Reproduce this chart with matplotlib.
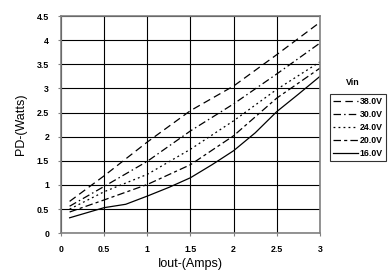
import numpy as np
import matplotlib
matplotlib.use("Agg")
import matplotlib.pyplot as plt

plt.rcParams['font.family'] = ['Liberation Sans', 'DejaVu Sans']

# load current (A)
iout = [0.1, 0.5, 1.0, 1.5, 2.0, 2.5, 3.0]

# dissipated power (W) per input voltage
pd_38v = [0.66, 1.19, 1.89, 2.54, 3.05, 3.70, 4.37]
pd_30v = [0.56, 0.97, 1.49, 2.12, 2.68, 3.30, 3.94]
pd_24v = [0.50, 0.86, 1.22, 1.74, 2.33, 2.98, 3.55]
pd_20v = [0.44, 0.69, 1.01, 1.42, 2.02, 2.80, 3.42]
iout_16 = [0.1, 0.5, 0.75, 1.0, 1.25, 1.5, 1.75, 2.0, 2.25, 2.5, 2.75, 3.0]
pd_16v = [0.32, 0.53, 0.60, 0.77, 0.95, 1.15, 1.42, 1.71, 2.08, 2.52, 2.88, 3.25]

labels = ['38.0V', '30.0V', '24.0V', '20.0V', '16.0V']
x_ticks = [0, 0.5, 1, 1.5, 2, 2.5, 3]
x_tick_labels = ['0', '0.5', '1', '1.5', '2', '2.5', '3']
y_ticks = [0, 0.5, 1, 1.5, 2, 2.5, 3, 3.5, 4, 4.5]
y_tick_labels = ['0', '0.5', '1', '1.5', '2', '2.5', '3', '3.5', '4', '4.5']

fig = plt.figure(figsize=(3.9, 2.78), dpi=100)
ax = fig.add_axes([0.1564, 0.161, 0.664, 0.7814])

lw = 0.9
ax.plot(iout, pd_38v, color='black', lw=lw, linestyle=(0, (6, 3.5)), label=labels[0])
ax.plot(iout, pd_30v, color='black', lw=lw, linestyle=(0, (6, 2.5, 1.2, 2.5)), label=labels[1])
ax.plot(iout, pd_24v, color='black', lw=lw, linestyle=(0, (1.5, 2.5)), label=labels[2])
ax.plot(iout, pd_20v, color='black', lw=lw, linestyle=(0, (6, 2.5, 2.5, 2.5)), label=labels[3])
ax.plot(iout_16, pd_16v, color='black', lw=lw, linestyle='-', label=labels[4])

ax.set_xlim(0, 3)
ax.set_ylim(0, 4.5)
ax.set_xticks(x_ticks)
ax.set_xticklabels(x_tick_labels)
ax.set_yticks(y_ticks)
ax.set_yticklabels(y_tick_labels)
ax.grid(True, color='black', lw=0.8)
ax.set_axisbelow(True)

for s in ax.spines.values():
    s.set_color('#808080')
    s.set_linewidth(1.2)

ax.tick_params(axis='both', direction='out', length=2.5, width=0.8, color='#808080',
               labelsize=6.3, pad=6)
for t in ax.get_xticklabels() + ax.get_yticklabels():
    t.set_fontweight('bold')

ax.set_xlabel('Iout-(Amps)', fontsize=9, labelpad=3)
ax.set_ylabel('PD-(Watts)', fontsize=9, labelpad=7)

leg = ax.legend(loc='upper left', bbox_to_anchor=(1.04, 0.64), frameon=True,
                fancybox=False, edgecolor='black', fontsize=6.3, handlelength=2.8,
                handletextpad=0.2, labelspacing=0.45, borderpad=0.35, borderaxespad=0)
leg.get_frame().set_linewidth(0.8)
for t in leg.get_texts():
    t.set_fontweight('bold')
fig.text(0.905, 0.705, 'Vin', fontsize=6.3, fontweight='bold', ha='center', va='center')

fig.savefig('out.png', dpi=100)
